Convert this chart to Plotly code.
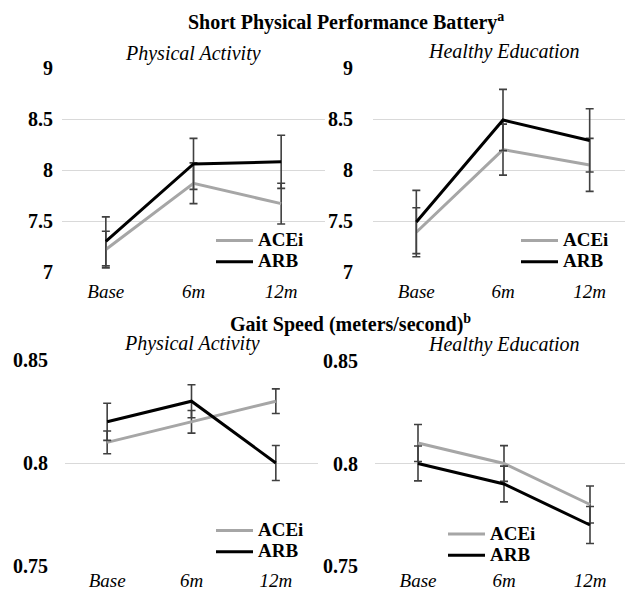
import plotly.graph_objects as go

# ---------------- data ----------------
categories = ["Base", "6m", "12m"]
y_ticks_sppb = [7, 7.5, 8, 8.5, 9]
y_ticks_gait = [0.75, 0.8, 0.85]

sppb_pa_acei = [7.22, 7.87, 7.67]
sppb_pa_acei_err = [0.18, 0.20, 0.20]
sppb_pa_arb = [7.30, 8.06, 8.08]
sppb_pa_arb_err = [0.24, 0.25, 0.26]

sppb_he_acei = [7.39, 8.20, 8.05]
sppb_he_acei_err = [0.24, 0.25, 0.26]
sppb_he_arb = [7.49, 8.49, 8.29]
sppb_he_arb_err = [0.31, 0.30, 0.31]

gait_pa_acei = [0.81, 0.82, 0.83]
gait_pa_acei_err = [0.0055, 0.0055, 0.006]
gait_pa_arb = [0.82, 0.83, 0.80]
gait_pa_arb_err = [0.009, 0.008, 0.0085]

gait_he_acei = [0.81, 0.80, 0.78]
gait_he_acei_err = [0.009, 0.0087, 0.009]
gait_he_arb = [0.80, 0.79, 0.77]
gait_he_arb_err = [0.0085, 0.0087, 0.009]

title_sppb = "Short Physical Performance Battery<sup>a</sup>"
title_gait = "Gait Speed (meters/second)<sup>b</sup>"
sub_pa = "Physical Activity"
sub_he = "Healthy Education"

# ---------------- style ----------------
OFF = 8                       # page body margin (top/left)
W, H = 633 - OFF, 592 - OFF   # figure reaches the window's right/bottom edges
FONT = "Liberation Serif"
ACEI_COLOR = "#A6A6A6"
ARB_COLOR = "#000000"
ERR_COLOR = "#404040"
GRID = "#D9D9D9"

def fx(p):
    return (p - OFF) / W

def fy(p):
    return 1 - (p - OFF) / H

def px_x(a, b):
    return [max(0.0, fx(a)), min(1.0, fx(b))]

def px_y(top, bottom):
    return [fy(bottom), fy(top)]

fig = go.Figure()

panels = [
    ("x", "y", "legend", sppb_pa_acei, sppb_pa_acei_err, sppb_pa_arb, sppb_pa_arb_err),
    ("x2", "y2", "legend2", sppb_he_acei, sppb_he_acei_err, sppb_he_arb, sppb_he_arb_err),
    ("x3", "y3", "legend3", gait_pa_acei, gait_pa_acei_err, gait_pa_arb, gait_pa_arb_err),
    ("x4", "y4", "legend4", gait_he_acei, gait_he_acei_err, gait_he_arb, gait_he_arb_err),
]

def legend_name(s):
    return "<span style='font-size:19px'>" + s + "</span>"

for xa, ya, lg, acei, acei_e, arb, arb_e in panels:
    fig.add_trace(go.Scatter(
        x=categories, y=acei, xaxis=xa, yaxis=ya, legend=lg,
        name=legend_name("ACEi"), mode="lines",
        line=dict(color=ACEI_COLOR, width=3),
        error_y=dict(type="data", array=acei_e, color=ERR_COLOR, thickness=1.6, width=4),
    ))
    fig.add_trace(go.Scatter(
        x=categories, y=arb, xaxis=xa, yaxis=ya, legend=lg,
        name=legend_name("ARB"), mode="lines",
        line=dict(color=ARB_COLOR, width=3),
        error_y=dict(type="data", array=arb_e, color=ERR_COLOR, thickness=1.6, width=4),
    ))

xdomains = [px_x(62, 325), px_x(373, 633), px_x(65, 318), px_x(375, 633)]
ydomains = [px_y(68, 272), px_y(68, 272), px_y(360, 566), px_y(361, 566)]
yranges = [[7, 9], [7, 9], [0.75, 0.85], [0.75, 0.85]]
yticks = [y_ticks_sppb, y_ticks_sppb, y_ticks_gait, y_ticks_gait]
ystand = [8, 19, 16, 16]
xstand = [6, 6, 1, 1]

layout = dict(
    width=W, height=H, autosize=False,
    margin=dict(l=0, r=0, t=0, b=0, autoexpand=False),
    paper_bgcolor="white", plot_bgcolor="white",
    font=dict(family=FONT, color="black"),
    showlegend=True,
)
for i in range(4):
    sx = "" if i == 0 else str(i + 1)
    layout["xaxis" + sx] = dict(
        domain=xdomains[i], anchor="y" + sx, type="category",
        categoryorder="array", categoryarray=categories, automargin=False,
        range=[-0.5, 2.5], showgrid=False, showline=False, zeroline=False,
        ticks="", tickfont=dict(family=FONT, size=19, style="italic", color="black"),
        ticklabelstandoff=xstand[i], fixedrange=True,
    )
    layout["yaxis" + sx] = dict(
        domain=ydomains[i], anchor="x" + sx, range=yranges[i], automargin=False,
        tickvals=yticks[i], showgrid=True, gridcolor=GRID, gridwidth=1.3,
        zeroline=False, showline=False, ticks="",
        tickfont=dict(family=FONT, size=20, weight="bold", color="black"),
        ticklabelstandoff=ystand[i], fixedrange=True,
    )

leg_common = dict(
    bgcolor="rgba(0,0,0,0)", borderwidth=0,
    font=dict(family=FONT, size=14, weight="bold", color="black"),
    xanchor="left", yanchor="middle", tracegroupgap=0, itemwidth=37,
)
layout["legend"] = dict(leg_common, x=fx(211), y=fy(251.5))
layout["legend2"] = dict(leg_common, x=fx(516), y=fy(251.5))
layout["legend3"] = dict(leg_common, x=fx(211), y=fy(541.5))
layout["legend4"] = dict(leg_common, x=fx(443), y=fy(545))

fig.update_layout(**layout)

ann = []
ann.append(dict(text="<b>" + title_sppb + "</b>", x=fx(346), y=fy(22), xref="paper", yref="paper",
                showarrow=False, xanchor="center", yanchor="middle",
                font=dict(family=FONT, size=20, color="black")))
ann.append(dict(text="<b>" + title_gait + "</b>", x=fx(350), y=fy(323), xref="paper", yref="paper",
                showarrow=False, xanchor="center", yanchor="middle",
                font=dict(family=FONT, size=20, color="black")))
subs = [(sub_pa, 193, 53), (sub_he, 504, 51), (sub_pa, 192, 343), (sub_he, 504, 344)]
for t, cx, cy in subs:
    ann.append(dict(text="<i>" + t + "</i>", x=fx(cx), y=fy(cy), xref="paper", yref="paper",
                    showarrow=False, xanchor="center", yanchor="middle",
                    font=dict(family=FONT, size=20, color="black")))
fig.update_layout(annotations=ann)

fig.write_html("out.html")
